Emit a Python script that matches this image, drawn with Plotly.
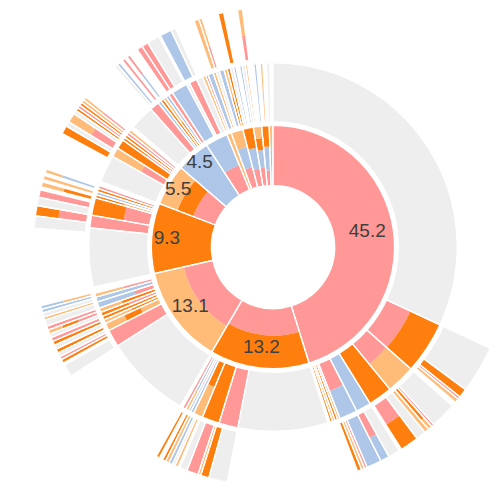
import plotly.graph_objects as go

# ---------------- data ----------------
# category colours (P = pink, O = orange, L = light orange, B = light blue, G = grey)
COLORS = {"P": "#ff9896", "O": "#ff7f0e", "L": "#ffbb78", "B": "#aec7e8", "G": "#eeeeee"}

# ring 1 (percent of the circle), labels and radial composition of each node
ring1_values = [45.2, 13.2, 13.1, 9.3, 5.5, 4.5, 3.0, 0.6, 1.6, 1.4, 1.1, 1.0, 0.5]
ring1_labels = ["45.2", "13.2", "13.1", "9.3", "5.5", "4.5", "", "", "", "", "", "", ""]
ring1_stacks = ["P", "P.45 O.55", "P.5 L.5", "O", "P.4 O.28 L.32", "B",
                "P.45 B.55", "L", "P.35 B.35 L.3", "P.3 B.35 O.35",
                "P.3 B.3 O.2 L.2", "P.25 B.4 O.35", "B.6 L.4"]

# ring 2, one list per sector (sectors = first six ring-1 nodes + the small rest)
ring2_values = [
    [31.94, 4.58, 2.53, 2.11, 1.33, 1.58, 0.22, 0.25, 0.22, 0.22, 0.22],
    [7.86, 1.67, 1.53, 0.83, 0.28, 0.22, 0.28, 0.28, 0.25],
    [7.58, 1.53, 0.69, 0.33, 0.33, 0.36, 0.39, 0.56, 0.44, 0.33, 0.56],
    [5.17, 1.11, 1.53, 0.28, 0.28, 0.28, 0.28, 0.39],
    [2.39, 0.83, 0.83, 0.28, 0.28, 0.28, 0.28, 0.33],
    [2.17, 0.83, 0.28, 0.28, 0.28, 0.28, 0.39],
    [1.42, 0.28, 0.69, 0.56, 0.28, 0.22, 0.47, 0.28, 0.28, 0.42, 0.28, 0.28,
     0.28, 0.22, 0.33, 0.22, 0.28, 0.19, 0.56, 0.22, 0.33, 0.22, 0.33, 0.28, 0.28],
]
ring2_stacks = [
    ["G", "P.45 O.55", "P.45 L.55", "O", "B", "P.5 B.5", "B.5 L.5", "O", "L", "O", ""],
    ["G", "P", "O", "O.45 L.55", "B", "P.5 B.5", "B.6 L.4", "P", ""],
    ["G", "P", "L.35 O.3 L.35", "O.5 L.5", "O", "P.5 O.5", "O.6 L.4", "P.35 B.65", "B", "P.5 L.5", ""],
    ["G", "P", "P.45 O.55", "L.5 O.5", "B", "O", "P", ""],
    ["G", "P.45 L.55", "O", "P.5 O.5", "O", "P", "P.5 L.5", ""],
    ["G", "P", "B", "O", "O.5 L.5", "B", "P"],
    ["B", "G", "P", "G", "L", "P", "B", "L", "G", "B", "O.5 L.5", "O",
     "G", "B", "", "B", "G", "L", "", "B", "", "L", "", "G", ""],
]

# ring 3, same sectors
ring3_values = [
    [31.94, 3.19, 0.61, 0.19, 0.28, 0.31, 1.75, 0.19, 0.28, 0.31, 0.67, 1.25, 0.19,
     0.78, 0.61, 1.0, 0.19, 0.22, 0.28, 0.94],
    [7.86, 1.25, 0.56, 0.19, 0.78, 0.5, 0.14, 0.22, 0.19, 0.25, 0.25, 0.22, 0.25, 0.22, 0.31],
    [7.58, 0.83, 0.17, 0.25, 0.22, 0.28, 0.28, 0.28, 0.28, 0.28, 0.25, 0.28, 0.28,
     0.42, 0.22, 0.28, 0.25, 0.25, 0.44],
    [4.75, 0.83, 0.69, 0.56, 0.5, 0.22, 0.33, 0.17, 0.28, 0.19, 0.25, 0.53],
    [2.06, 0.56, 0.33, 0.64, 0.25, 0.22, 0.22, 0.22, 0.22, 0.22, 0.56],
    [2.22, 0.22, 0.22, 0.22, 0.22, 0.17, 0.22, 0.61, 0.39],
    [0.44, 0.83, 0.14, 0.78, 0.33, 1.33, 0.33, 0.22, 1.11, 0.36, 0.94, 0.33, 2.03],
]
ring3_stacks = [
    ["", "G", "O", "P", "L", "", "G", "P", "O.7 L.3", "L", "G", "P.4 O.6", "",
     "G", "P.45 B.55", "B", "P", "L", "O", ""],
    ["", "G", "O", "L", "P", "G", "", "L", "G", "B", "L", "O", "", "O", ""],
    ["", "G", "", "O", "P", "G", "O", "G", "O", "P", "G", "P.35 O.3 L.35", "P",
     "G", "L", "G", "B", "L.5 B.5", ""],
    ["", "G", "P.5 O.5", "G", "P", "", "O.5 L.5", "", "L", "", "B.6 L.4", ""],
    ["", "O", "G", "P.45 L.55", "G", "O", "P", "O", "L", "P.5 L.5", ""],
    ["", "G", "B", "", "P", "", "B.5 P.5", "", "P"],
    ["P", "G", "", "B", "G", "", "L", "P.4 L.6", "", "O", "", "P.45 L.55", ""],
]

# ---------------- geometry / style ----------------
RINGS = [(66, 130), (134, 197), (201, 262)]

seg = {"theta": [], "width": [], "base": [], "r": [], "color": []}
out = {"theta": [], "width": [], "base": [], "r": []}


def parse(stack):
    res = []
    for tok in stack.split():
        res.append((tok[0], float(tok[1:]) if len(tok) > 1 else 1.0))
    return res


def add_node(start_pct, width_pct, stack, ring):
    parts = parse(stack)
    if not parts:
        return
    r0, r1 = RINGS[ring]
    depth = r1 - r0
    th = (start_pct + width_pct / 2.0) * 3.6
    w = width_pct * 3.6
    cum = 0.0
    for key, frac in parts:
        seg["theta"].append(th)
        seg["width"].append(w)
        seg["base"].append(r0 + cum * depth)
        seg["r"].append(frac * depth)
        seg["color"].append(COLORS[key])
        cum += frac
    out["theta"].append(th)
    out["width"].append(w)
    out["base"].append(r0)
    out["r"].append(cum * depth)


# ring 1
pos = 0.0
label_theta, label_r, label_text = [], [], []
for v, lab, st in zip(ring1_values, ring1_labels, ring1_stacks):
    add_node(pos, v, st, 0)
    if lab:
        label_theta.append((pos + v / 2.0) * 3.6)
        label_r.append(102 + 22 * (1 - min(v, 20) / 20.0))
        label_text.append(lab)
    pos += v

# sectors for outer rings
sectors = ring1_values[:6] + [sum(ring1_values[6:])]
sector_start = []
acc = 0.0
for s in sectors:
    sector_start.append(acc)
    acc += s

for ring, (vals_all, stacks_all) in enumerate([(ring2_values, ring2_stacks),
                                                (ring3_values, ring3_stacks)], start=1):
    for i, (vals, stacks) in enumerate(zip(vals_all, stacks_all)):
        scale = sectors[i] / sum(vals)
        p = sector_start[i]
        for v, st in zip(vals, stacks):
            add_node(p, v * scale, st, ring)
            p += v * scale

fig = go.Figure()
fig.add_trace(go.Barpolar(
    theta=seg["theta"], width=seg["width"], base=seg["base"], r=seg["r"],
    marker=dict(color=seg["color"], line=dict(width=0)),
    hoverinfo="skip",
))
fig.add_trace(go.Barpolar(
    theta=out["theta"], width=out["width"], base=out["base"], r=out["r"],
    marker=dict(color="rgba(0,0,0,0)", line=dict(color="white", width=1.3)),
    hoverinfo="skip",
))
fig.add_trace(go.Scatterpolar(
    r=label_r, theta=label_theta, mode="text", text=label_text,
    textfont=dict(family="Liberation Sans, Arial, sans-serif", size=19, color="#404040"),
    hoverinfo="skip",
))

fig.update_layout(
    width=504, height=490,
    margin=dict(l=0, r=0, t=0, b=0),
    paper_bgcolor="white",
    showlegend=False,
    polar=dict(
        domain=dict(x=[0.0516, 1.0], y=[0.0245, 1.0]),
        bgcolor="white",
        barmode="overlay",
        bargap=0,
        radialaxis=dict(range=[0, 255.6], visible=False),
        angularaxis=dict(visible=False, rotation=90, direction="clockwise"),
    ),
)

fig.write_html("out.html")
